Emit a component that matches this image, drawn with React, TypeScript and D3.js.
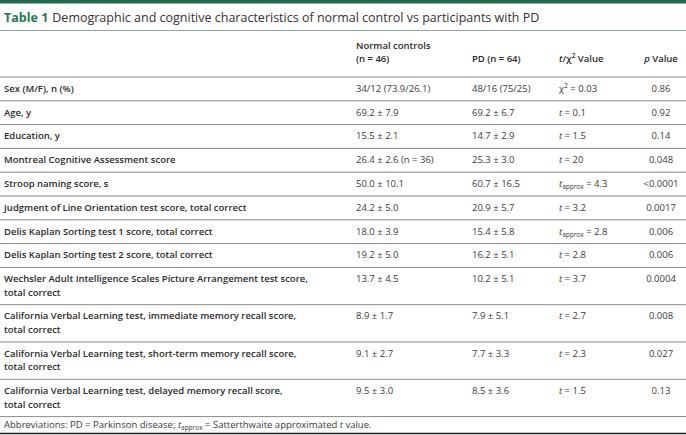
import React, { useEffect, useRef } from 'react';
import * as d3 from 'd3';

// table content
const rowLabels = [
  'Sex (M/F), n (%)',
  'Age, y',
  'Education, y',
  'Montreal Cognitive Assessment score',
  'Stroop naming score, s',
  'Judgment of Line Orientation test score, total correct',
  'Delis Kaplan Sorting test 1 score, total correct',
  'Delis Kaplan Sorting test 2 score, total correct',
  'Wechsler Adult Intelligence Scales Picture Arrangement test score,\ntotal correct',
  'California Verbal Learning test, immediate memory recall score,\ntotal correct',
  'California Verbal Learning test, short-term memory recall score,\ntotal correct',
  'California Verbal Learning test, delayed memory recall score,\ntotal correct',
];
const controlValues = [
  '34/12 (73.9/26.1)', '69.2 ± 7.9', '15.5 ± 2.1', '26.4 ± 2.6 (n = 36)', '50.0 ± 10.1', '24.2 ± 5.0',
  '18.0 ± 3.9', '19.2 ± 5.0', '13.7 ± 4.5', '8.9 ± 1.7', '9.1 ± 2.7', '9.5 ± 3.0',
];
const pdValues = [
  '48/16 (75/25)', '69.2 ± 6.7', '14.7 ± 2.9', '25.3 ± 3.0', '60.7 ± 16.5', '20.9 ± 5.7',
  '15.4 ± 5.8', '16.2 ± 5.1', '10.2 ± 5.1', '7.9 ± 5.1', '7.7 ± 3.3', '8.5 ± 3.6',
];
const statKinds = ['chi', 't', 't', 't', 'tapprox', 't', 'tapprox', 't', 't', 't', 't', 't'];
const statValues = ['0.03', '0.1', '1.5', '20', '4.3', '3.2', '2.8', '2.8', '3.7', '2.7', '2.3', '1.5'];
const pValues = ['0.86', '0.92', '0.14', '0.048', '<0.0001', '0.0017', '0.006', '0.006', '0.0004', '0.008', '0.027', '0.13'];

const width = 686;
const height = 435;
const font = "'Open Sans', 'Noto Sans', sans-serif";

const App = () => {
  const ref = useRef<SVGSVGElement>(null);

  useEffect(() => {
    const svg = d3.select(ref.current);
    svg.selectAll('*').remove();

    const col = d3
      .scaleOrdinal<string, number>()
      .domain(['label', 'control', 'pd', 'stat', 'p'])
      .range([4, 356, 472, 559, 661]);

    const fs = 9.5;
    const lineGap = 13.5;
    const single = 23.8;
    const headerBottom = 76.5;

    const heights = rowLabels.map((l) => single + (l.split('\n').length - 1) * lineGap);
    const tops = [headerBottom, ...Array.from(d3.cumsum(heights), (c) => headerBottom + c)];

    // top band and title
    svg.append('rect').attr('x', 0).attr('y', 0).attr('width', width).attr('height', 3.5).attr('fill', '#1c6b4b');
    const title = svg.append('text').attr('x', 4).attr('y', 21.5).attr('font-size', 12.5).attr('fill', '#333');
    title.append('tspan').attr('font-weight', 700).attr('fill', '#1f7a52').text('Table 1');
    title.append('tspan').attr('dx', 4).text('Demographic and cognitive characteristics of normal control vs participants with PD');
    svg.append('line').attr('x1', 0).attr('x2', width).attr('y1', 30.5).attr('y2', 30.5).attr('stroke', '#8fa89c');

    // header
    const head = svg.append('g').attr('font-size', fs).attr('font-weight', 600).attr('fill', '#2a2a2a');
    head.append('text').attr('x', col('control')).attr('y', 49).text('Normal controls');
    head.append('text').attr('x', col('control')).attr('y', 61.5).text('(n = 46)');
    head.append('text').attr('x', col('pd')).attr('y', 61.5).text('PD (n = 64)');
    const th = head.append('text').attr('x', col('stat')).attr('y', 61.5);
    th.append('tspan').attr('font-style', 'italic').text('t');
    th.append('tspan').text('/χ');
    th.append('tspan').attr('font-size', 6.5).attr('dy', -4).text('2');
    th.append('tspan').attr('dy', 4).text(' Value');
    const ph = head.append('text').attr('x', col('p')).attr('y', 61.5).attr('text-anchor', 'middle');
    ph.append('tspan').attr('font-style', 'italic').text('p');
    ph.append('tspan').text(' Value');
    svg.append('line').attr('x1', 0).attr('x2', width).attr('y1', headerBottom + 0.5).attr('y2', headerBottom + 0.5).attr('stroke', '#8a8a8a');

    // rows
    const row = svg
      .append('g')
      .selectAll('g')
      .data(rowLabels)
      .join('g')
      .attr('transform', (d, i) => `translate(0,${tops[i]})`)
      .attr('font-size', fs);

    const base = single / 2 + 3.4;

    row
      .append('text')
      .attr('x', col('label'))
      .attr('font-weight', 600)
      .attr('fill', '#2a2a2a')
      .selectAll('tspan')
      .data((d) => d.split('\n'))
      .join('tspan')
      .attr('x', col('label'))
      .attr('y', (d, j) => base + j * lineGap)
      .text((d) => d);

    row.append('text').attr('x', col('control')).attr('y', base).attr('fill', '#3a3a3a').text((d, i) => controlValues[i]);
    row.append('text').attr('x', col('pd')).attr('y', base).attr('fill', '#3a3a3a').text((d, i) => pdValues[i]);

    const st = row.append('text').attr('x', col('stat')).attr('y', base).attr('fill', '#3a3a3a');
    st.each(function (d, i) {
      const t = d3.select(this);
      const kind = statKinds[i];
      if (kind === 'chi') {
        t.append('tspan').text('χ');
        t.append('tspan').attr('font-size', 6.5).attr('dy', -4).text('2');
        t.append('tspan').attr('dy', 4).text(` = ${statValues[i]}`);
      } else {
        t.append('tspan').attr('font-style', 'italic').text('t');
        if (kind === 'tapprox') {
          t.append('tspan').attr('font-size', 6.5).attr('dy', 2).text('approx');
          t.append('tspan').attr('dy', -2).text(` = ${statValues[i]}`);
        } else {
          t.append('tspan').text(` = ${statValues[i]}`);
        }
      }
    });

    row.append('text').attr('x', col('p')).attr('y', base).attr('text-anchor', 'middle').attr('fill', '#3a3a3a').text((d, i) => pValues[i]);

    row
      .append('line')
      .attr('x1', 0)
      .attr('x2', width)
      .attr('y1', (d, i) => heights[i] + 0.5)
      .attr('y2', (d, i) => heights[i] + 0.5)
      .attr('stroke', '#8a8a8a');

    // footnote
    const foot = svg.append('text').attr('x', col('label')).attr('y', 428).attr('font-size', fs).attr('fill', '#3a3a3a');
    foot.append('tspan').text('Abbreviations: PD = Parkinson disease; ');
    foot.append('tspan').attr('font-style', 'italic').text('t');
    foot.append('tspan').attr('font-size', 6.5).attr('dy', 2).text('approx');
    foot.append('tspan').attr('dy', -2).text(' = Satterthwaite approximated ');
    foot.append('tspan').attr('font-style', 'italic').text('t');
    foot.append('tspan').text(' value.');
    svg.append('line').attr('x1', 0).attr('x2', width).attr('y1', height - 1.5).attr('y2', height - 1.5).attr('stroke', '#222').attr('stroke-width', 1.5);
  }, []);

  return (
    <svg
      ref={ref}
      width={width}
      height={height}
      style={{ position: 'absolute', left: 0, top: 0, background: '#fff', fontFamily: font }}
    />
  );
};

export default App;
